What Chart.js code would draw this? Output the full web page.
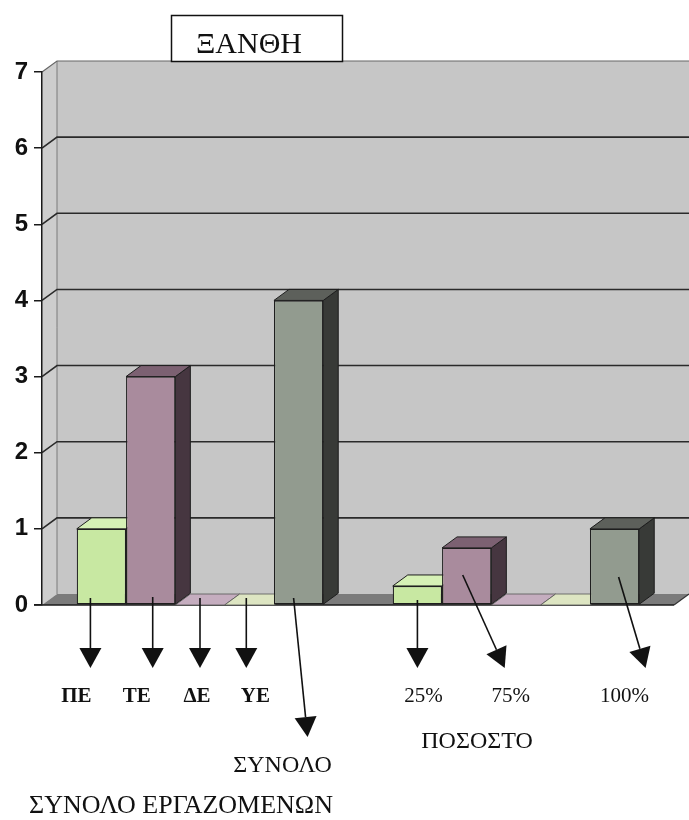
<!DOCTYPE html>
<html>
<head>
<meta charset="utf-8">
<script src="https://cdn.jsdelivr.net/npm/chart.js@4/dist/chart.umd.min.js"></script>
<style>
  html, body { margin: 0; padding: 0; background: #ffffff; }
  #wrap { width: 689px; height: 820px; position: relative; }
</style>
</head>
<body>
<div id="wrap"><canvas id="chart" width="689" height="820"></canvas></div>
<script>
// ---- data ----
const categories = ['ΣΥΝΟΛΟ ΕΡΓΑΖΟΜΕΝΩΝ', 'ΠΟΣΟΣΤΟ'];
const seriesNames = ['ΠΕ', 'ΤΕ', 'ΔΕ', 'ΥΕ', 'ΣΥΝΟΛΟ'];
const valuesPE = [1, 0.25];
const valuesTE = [3, 0.75];
const valuesDE = [0, 0];
const valuesYE = [0, 0];
const valuesTotal = [4, 1];
const percentLabels = ['25%', '75%', '', '', '100%'];
const yTickValues = [0, 1, 2, 3, 4, 5, 6, 7];
const titleText = 'ΞΑΝΘΗ';

// ---- styling ----
const DX = 15, DY = -11;            // depth offset of the 3D box
const seriesFaces = [
  { front: '#c8e8a2', top: '#d6f1b6', side: '#6f8a55' },
  { front: '#a98b9d', top: '#7c6172', side: '#463640' },
  { front: '#c2a9bb', top: '#c5adbf', side: '#6e5a68' },
  { front: '#dfe6c3', top: '#dde5c2', side: '#8c9274' },
  { front: '#929b8f', top: '#5d605b', side: '#383a37' }
];
const OUTLINE = '#1e1e1e';
const SERIF = '"Liberation Serif", "DejaVu Serif", serif';

// arrows + labels under bars: [category, dataset, startDx, startY, tipDx, tipY, labelDx, baselineY, text, bold]
const arrowLayout = [
  [0, 0, -11, 598, -11, 668, -25, 702, seriesNames[0], true],
  [0, 1,   2, 597,   2, 668, -14, 702, seriesNames[1], true],
  [0, 2,   0, 598,   0, 668,  -3, 702, seriesNames[2], true],
  [0, 3,  -3, 598,  -3, 668,   6, 702, seriesNames[3], true],
  [0, 4,  -5, 598,   9, 737, -16, 772, seriesNames[4], false],
  [1, 0,   0, 600,   0, 668,   6, 702, percentLabels[0], false],
  [1, 1,  -4, 575,  38, 668,  44, 702, percentLabels[1], false],
  [1, 4,   4, 577,  31, 668,  10, 702, percentLabels[4], false]
];
// category captions: [category, dx, baselineY, fontSize]
const captionLayout = [
  [0, -19, 813, 26],
  [1, -39, 748, 24]
];

function poly(ctx, pts, fill, stroke, lw) {
  ctx.beginPath();
  ctx.moveTo(pts[0][0], pts[0][1]);
  for (let i = 1; i < pts.length; i++) ctx.lineTo(pts[i][0], pts[i][1]);
  ctx.closePath();
  if (fill) { ctx.fillStyle = fill; ctx.fill(); }
  if (stroke) { ctx.strokeStyle = stroke; ctx.lineWidth = lw || 1; ctx.stroke(); }
}

function line(ctx, x1, y1, x2, y2, color, lw) {
  ctx.beginPath();
  ctx.moveTo(x1, y1);
  ctx.lineTo(x2, y2);
  ctx.strokeStyle = color;
  ctx.lineWidth = lw;
  ctx.stroke();
}

// walls, floor and gridlines of the 3D box
const boxPlugin = {
  id: 'box3d',
  beforeDraw(chart) {
    const { ctx, chartArea: a, scales: { y } } = chart;
    const W = chart.width;
    ctx.save();
    // back wall
    poly(ctx, [[a.left + DX, a.top + DY], [W, a.top + DY], [W, a.bottom + DY], [a.left + DX, a.bottom + DY]], '#c6c6c6');
    // side wall
    poly(ctx, [[a.left, a.top], [a.left + DX, a.top + DY], [a.left + DX, a.bottom + DY], [a.left, a.bottom]], '#cdcdcd');
    line(ctx, a.left + DX, a.top + DY, a.left + DX, a.bottom + DY, '#7a7a7a', 1);
    // floor
    poly(ctx, [[a.left, a.bottom], [a.right, a.bottom], [a.right + DX, a.bottom + DY], [a.left + DX, a.bottom + DY]], '#7b7b7b');
    // gridlines
    yTickValues.forEach(v => {
      if (v === 0) return;
      const py = y.getPixelForValue(v);
      const top = v === yTickValues[yTickValues.length - 1];
      const col = top ? '#666666' : '#2a2a2a';
      ctx.beginPath();
      ctx.moveTo(a.left, py);
      ctx.lineTo(a.left + DX, py + DY);
      ctx.lineTo(W, py + DY);
      ctx.strokeStyle = col;
      ctx.lineWidth = top ? 1.2 : 1.6;
      ctx.stroke();
    });
    // front floor edge
    line(ctx, a.left - 8, a.bottom, a.right, a.bottom, '#1a1a1a', 1.5);
    line(ctx, a.right, a.bottom, a.right + DX, a.bottom + DY, '#333333', 1.2);
    ctx.restore();
  },
  // top and side faces of each bar, drawn left to right
  beforeDatasetsDraw(chart) {
    const { ctx } = chart;
    ctx.save();
    ctx.lineJoin = 'round';
    const n = chart.data.labels.length;
    for (let i = 0; i < n; i++) {
      chart.data.datasets.forEach((ds, d) => {
        const el = chart.getDatasetMeta(d).data[i];
        if (!el) return;
        const p = el.getProps(['x', 'y', 'base', 'width'], true);
        const xl = p.x - p.width / 2, xr = p.x + p.width / 2;
        const f = seriesFaces[d];
        if (p.base - p.y > 0.5) {
          poly(ctx, [[xr, p.y], [xr + DX, p.y + DY], [xr + DX, p.base + DY], [xr, p.base]], f.side, OUTLINE, 1);
          poly(ctx, [[xl, p.y], [xr, p.y], [xr + DX, p.y + DY], [xl + DX, p.y + DY]], f.top, OUTLINE, 1);
        } else {
          poly(ctx, [[xl, p.base], [xr, p.base], [xr + DX, p.base + DY], [xl + DX, p.base + DY]], f.top, '#555555', 0.8);
        }
      });
    }
    ctx.restore();
  },
  afterDraw(chart) {
    const { ctx, scales: { x } } = chart;
    ctx.save();
    // title box
    ctx.fillStyle = '#ffffff';
    ctx.fillRect(171, 15, 172, 47);
    ctx.strokeStyle = '#111111';
    ctx.lineWidth = 1.5;
    ctx.strokeRect(171.5, 15.5, 171, 46);
    ctx.fillStyle = '#111111';
    ctx.font = '30px ' + SERIF;
    ctx.textAlign = 'center';
    ctx.textBaseline = 'alphabetic';
    ctx.fillText(titleText, 249, 53);

    // arrows and their labels
    arrowLayout.forEach(([ci, di, sdx, sy, tdx, ty, ldx, ly, txt, bold]) => {
      const el = chart.getDatasetMeta(di).data[ci];
      const cx = el.getProps(['x'], true).x;
      const x1 = cx + sdx, x2 = cx + tdx;
      const ang = Math.atan2(ty - sy, x2 - x1);
      const hl = 20, hw = 11;
      const bx = x2 - hl * Math.cos(ang), by = ty - hl * Math.sin(ang);
      line(ctx, x1, sy, bx, by, '#111111', 1.6);
      const nx = -Math.sin(ang) * hw, ny = Math.cos(ang) * hw;
      poly(ctx, [[x2, ty], [bx + nx, by + ny], [bx - nx, by - ny]], '#111111');
      ctx.fillStyle = '#111111';
      ctx.font = (bold ? 'bold ' : '') + (txt === seriesNames[4] ? 24 : 21) + 'px ' + SERIF;
      ctx.textAlign = 'center';
      ctx.fillText(txt, cx + ldx, ly);
    });

    // category captions
    captionLayout.forEach(([ci, dx, by, fs]) => {
      ctx.font = fs + 'px ' + SERIF;
      ctx.fillStyle = '#111111';
      ctx.textAlign = 'center';
      ctx.fillText(categories[ci], x.getPixelForValue(ci) + dx, by);
    });
    ctx.restore();
  }
};

const seriesValues = [valuesPE, valuesTE, valuesDE, valuesYE, valuesTotal];

new Chart(document.getElementById('chart'), {
  type: 'bar',
  data: {
    labels: categories,
    datasets: seriesNames.map((name, d) => ({
      label: name,
      data: seriesValues[d],
      backgroundColor: seriesFaces[d].front,
      borderColor: OUTLINE,
      borderWidth: 1.2,
      borderSkipped: false,
      categoryPercentage: 0.78,
      barPercentage: 1.0
    }))
  },
  options: {
    responsive: false,
    animation: false,
    devicePixelRatio: 1,
    layout: { padding: { top: 72, right: 15, bottom: 215, left: 0 } },
    plugins: {
      legend: { display: false },
      title: { display: false },
      tooltip: { enabled: false }
    },
    scales: {
      x: {
        display: false,
        offset: true
      },
      y: {
        min: 0,
        max: 7,
        afterFit(scale) { scale.width = 42; },
        afterBuildTicks(scale) { scale.ticks = yTickValues.map(v => ({ value: v })); },
        ticks: {
          color: '#111111',
          padding: 6,
          font: { family: '"Liberation Sans", Arial, sans-serif', size: 24, weight: 'bold' }
        },
        grid: {
          drawOnChartArea: false,
          drawTicks: true,
          tickLength: 8,
          color: '#1a1a1a',
          lineWidth: 1.5
        },
        border: { display: true, color: '#1a1a1a', width: 1.5 }
      }
    }
  },
  plugins: [boxPlugin]
});
</script>
</body>
</html>
